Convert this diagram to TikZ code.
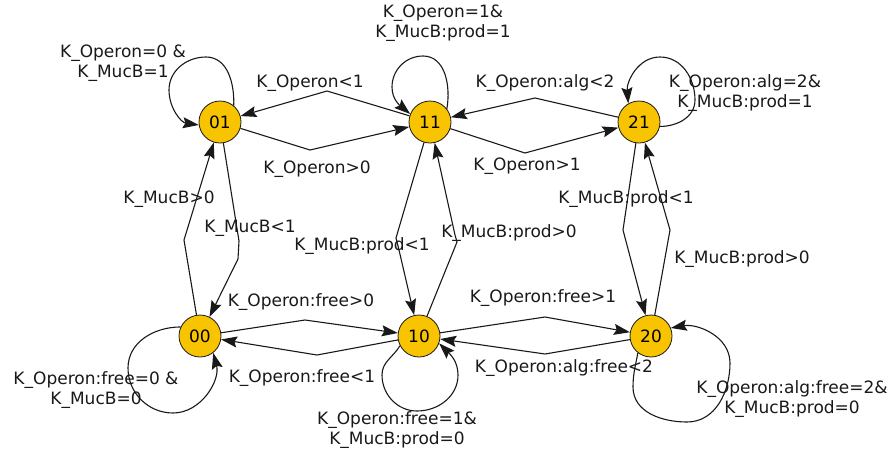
\documentclass[tikz,border=0pt]{standalone}
\usepackage{fontspec}
\setmainfont{DejaVu Sans}
\usetikzlibrary{arrows.meta}
\definecolor{stategold}{RGB}{248,196,0}
\definecolor{inkc}{RGB}{25,25,25}
\tikzset{
  state/.style={circle,draw=inkc,line width=0.8pt,fill=stategold,minimum size=42pt,inner sep=0pt,font=\fontsize{17}{20}\selectfont},
  tip/.tip={Stealth[length=16pt,width=11pt,inset=2.5pt]},
  trans/.style={draw=inkc,line width=1.1pt,-tip},
  lbl/.style={inner sep=0pt,font=\fontsize{17}{20}\selectfont,text=inkc},
  lbltwo/.style={lbl,align=center}
}
\begin{document}
\begin{tikzpicture}[x=1pt,y=-1pt]
\useasboundingbox (0,0) rectangle (894,453);
% states
\node[state] (n01) at (220,122) {01};
\node[state] (n11) at (430,122) {11};
\node[state] (n21) at (639,122) {21};
\node[state] (n00) at (200,336) {00};
\node[state] (n10) at (419,336) {10};
\node[state] (n20) at (651,336) {20};
% bend points
\coordinate (b1) at (327,91);
\coordinate (b2) at (310,150);
\coordinate (b3) at (535,98);
\coordinate (b4) at (525,153);
\coordinate (b5a) at (239,241);
\coordinate (b5b) at (238,259);
\coordinate (b6) at (184,240);
\coordinate (b7a) at (396,238);
\coordinate (b7b) at (399,250);
\coordinate (b8a) at (457,242);
\coordinate (b8b) at (455,235);
\coordinate (b9) at (623,230);
\coordinate (b10) at (670,230);
\coordinate (b11) at (305,320);
\coordinate (b12) at (317,355);
\coordinate (b13) at (545,317);
\coordinate (b14) at (545,354);
% loop points
\coordinate (l01a) at (206,57);
\coordinate (l01b) at (169,90);
\coordinate (l11a) at (423,56);
\coordinate (l11b) at (392,87);
\coordinate (l21a) at (695,100);
\coordinate (l21b) at (660,57);
\coordinate (l00a) at (128,368);
\coordinate (l00b) at (173,413);
\coordinate (l10a) at (382,375);
\coordinate (l10b) at (417,411);
\coordinate (l10c) at (458,375);
\coordinate (l20a) at (633,387);
\coordinate (l20b) at (687,422);
\coordinate (l20c) at (730,363);
% edges
\draw[trans] (n11) -- (b1) -- (n01);
\draw[trans] (n01) -- (b2) -- (n11);
\draw[trans] (n21) -- (b3) -- (n11);
\draw[trans] (n11) -- (b4) -- (n21);
\draw[trans] (n01) -- (b5a) -- (b5b) -- (n00);
\draw[trans] (n00) -- (b6) -- (n01);
\draw[trans] (n11) -- (b7a) -- (b7b) -- (n10);
\draw[trans] (n10) -- (b8a) -- (b8b) -- (n11);
\draw[trans] (n21) -- (b9) -- (n20);
\draw[trans] (n20) -- (b10) -- (n21);
\draw[trans] (n00) -- (b11) -- (n10);
\draw[trans] (n10) -- (b12) -- (n00);
\draw[trans] (n10) -- (b13) -- (n20);
\draw[trans] (n20) -- (b14) -- (n10);
% self loops
\draw[trans] (n01.50) to[out=88,in=0] (l01a) to[out=180,in=90] (l01b) to[out=-90,in=172] (n01.188);
\draw[trans] (n11.38) to[out=80,in=0] (l11a) to[out=180,in=90] (l11b) to[out=-90,in=140] (n11.158);
\draw[trans] (n21.-12) to[out=0,in=-90] (l21a) to[out=90,in=0] (l21b) to[out=180,in=95] (n21.120);
\draw[trans] (n00.155) to[out=180,in=90] (l00a) to[out=-90,in=180] (l00b) to[out=0,in=-75] (n00.-52);
\draw[trans] (n10.207) to[out=240,in=90] (l10a) to[out=-90,in=180] (l10b) to[out=0,in=-90] (l10c) to[out=90,in=-45] (n10.-20);
\draw[trans] (n20.232) to[out=-100,in=90] (l20a) to[out=-90,in=180] (l20b) to[out=0,in=-90] (l20c) to[out=90,in=10] (n20.22);
% edge labels
\node[lbl,anchor=base] (t1) at (310,87) {K\_Operon<1};
\node[lbl,anchor=base] (t2) at (317,173) {K\_Operon>0};
\node[lbl,anchor=base] (t3) at (545,87) {K\_Operon:alg<2};
\node[lbl,anchor=base] (t4) at (527,170) {K\_Operon>1};
\node[lbl,anchor=base] (t5) at (169,203) {K\_MucB>0};
\node[lbl,anchor=base] (t6) at (250,232) {K\_MucB<1};
\node[lbl,anchor=base] (t7) at (362,250) {K\_MucB:prod<1};
\node[lbl,anchor=base] (t8) at (509,237) {K\_MucB:prod>0};
\node[lbl,anchor=base] (t9) at (626,203) {K\_MucB:prod<1};
\node[lbl,anchor=base] (t10) at (742,263) {K\_MucB:prod>0};
\node[lbl,anchor=base] (t11) at (301,306) {K\_Operon:free>0};
\node[lbl,anchor=base] (t12) at (302,382) {K\_Operon:free<1};
\node[lbl,anchor=base] (t13) at (543,302) {K\_Operon:free>1};
\node[lbl,anchor=base] (t14) at (564,372) {K\_Operon:alg:free<2};
% loop labels
\node[lbltwo] (s01) at (123,63) {K\_Operon=0 \&\\K\_MucB=1};
\node[lbltwo] (s11) at (443,23) {K\_Operon=1\&\\K\_MucB:prod=1};
\node[lbltwo] (s21) at (745,93) {K\_Operon:alg=2\&\\K\_MucB:prod=1};
\node[lbltwo] (s00) at (96,390) {K\_Operon:free=0 \&\\K\_MucB=0};
\node[lbltwo] (s10) at (397,430) {K\_Operon:free=1\&\\K\_MucB:prod=0};
\node[lbltwo] (s20) at (792,399) {K\_Operon:alg:free=2\&\\K\_MucB:prod=0};
\end{tikzpicture}
\end{document}
